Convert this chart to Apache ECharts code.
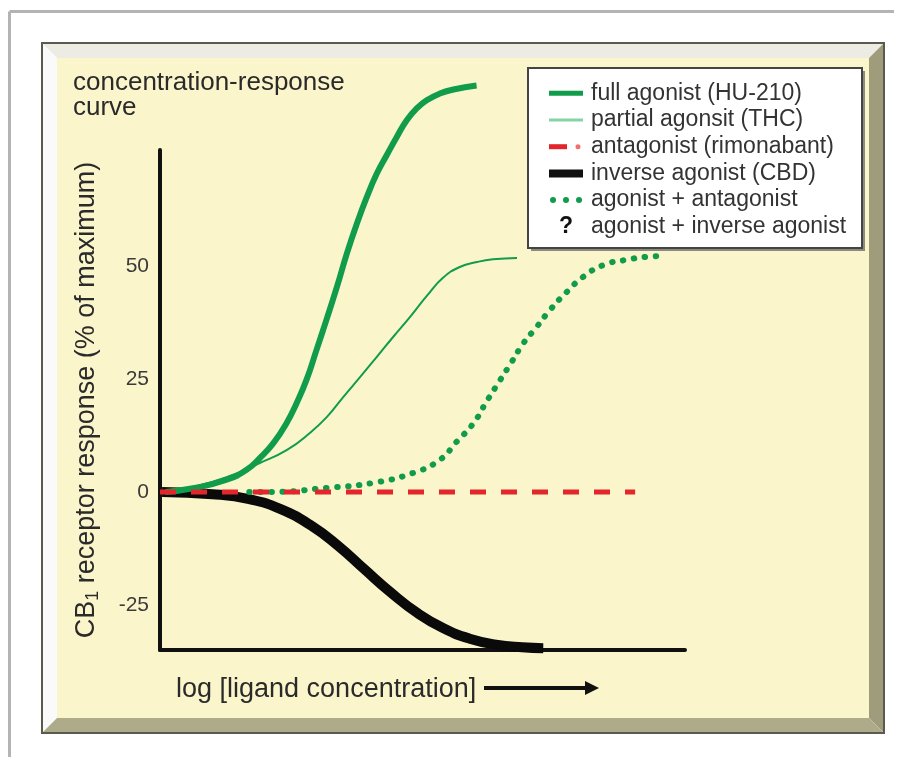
<!DOCTYPE html>
<html>
<head>
<meta charset="utf-8">
<script src="https://cdn.jsdelivr.net/npm/echarts@6/dist/echarts.min.js"></script>
<style>
  html, body { margin: 0; padding: 0; background: #fff; }
  #main { width: 904px; height: 757px; }
</style>
</head>
<body>
<div id="main"></div>
<script>
// values, x = log concentration (0..100 along the axis), y = % of maximum
var fullAgonist = [[1, 0], [6.3, 0.8], [12.7, 2.7], [16.5, 4.9], [19, 7.5], [21.6, 10.8], [24.1, 15.2],
  [26, 19.6], [27.9, 24.8], [29.8, 31.4], [31.7, 38.1], [33.7, 45.4], [35.6, 52.8], [37.5, 59.4],
  [39.4, 65.3], [41.3, 70.5], [43.2, 74.6], [45.1, 78.6], [47, 82.3], [48.9, 84.9], [50.8, 86.7],
  [53.3, 88.2], [55.9, 89.1], [60.3, 90]];
var partialAgonist = [[1, 0], [6.3, 1.1], [12.8, 3.3], [19, 6.4], [24.2, 9.3], [28.6, 13.1], [31.8, 16.6],
  [34.9, 21], [38.1, 25.4], [41.3, 29.9], [44.4, 34.3], [47.6, 38.7], [50.9, 43.5], [53.9, 47.4],
  [57.1, 49.8], [60.4, 50.9], [63.4, 51.5], [68, 51.8]];
var antagonist = [[0, 0], [90.5, 0]];
var inverseAgonist = [[0.4, 0], [10, -0.5], [17, -1.6], [23, -3.8], [29, -7.6], [34, -12], [39, -17.2],
  [44, -22.3], [49, -26.8], [54, -30.2], [59, -32.5], [64, -33.8], [69, -34.4], [73, -34.6]];
var agonistPlusAntagonist = [[17, 0], [21, 0], [31.8, 0.9], [40.6, 2], [48.2, 4.2], [53.3, 7.1], [56.5, 11.1],
  [59.7, 15.2], [62.2, 20], [64.8, 24.8], [67, 28.8], [69.2, 32.9], [71.8, 36.6], [74.3, 40.3],
  [77.5, 44.3], [80.6, 47.6], [84.4, 50.2], [88.9, 51.4], [93.3, 52.1], [95.2, 52.2]];
var yTicks = [-25, 0, 25, 50];
var legendNames = ['full agonist (HU-210)', 'partial agonsit (THC)', 'antagonist (rimonabant)',
  'inverse agonist (CBD)', 'agonist + antagonist', 'agonist + inverse agonist'];

var green = '#119c4b';
var red = '#e3262c';
var font = 'Liberation Sans, Arial, sans-serif';

// beveled frame + legend box drawn as graphics
var frame = [
  {type: 'line', shape: {x1: 9.5, y1: 11.5, x2: 894, y2: 11.5}, style: {stroke: '#b4b4b4', lineWidth: 3}, z: -100},
  {type: 'line', shape: {x1: 9.5, y1: 11.5, x2: 9.5, y2: 757}, style: {stroke: '#b4b4b4', lineWidth: 3}, z: -100},
  {type: 'rect', shape: {x: 57, y: 58, width: 812, height: 660}, style: {fill: '#fbf5cb'}, z: -100},
  {type: 'polygon', shape: {points: [[42, 43], [884, 43], [869, 58], [57, 58]]}, style: {fill: '#ecebe4'}, z: -100},
  {type: 'polygon', shape: {points: [[42, 43], [57, 58], [57, 718], [42, 733]]}, style: {fill: '#fafafa'}, z: -100},
  {type: 'polygon', shape: {points: [[884, 43], [884, 733], [869, 718], [869, 58]]}, style: {fill: '#9e9c7a'}, z: -100},
  {type: 'polygon', shape: {points: [[42, 733], [884, 733], [869, 718], [57, 718]]}, style: {fill: '#adab89'}, z: -100},
  {type: 'rect', shape: {x: 42, y: 43, width: 842, height: 690}, style: {fill: null, stroke: '#5a5a50', lineWidth: 2}, z: -99},
  // legend box
  {type: 'rect', shape: {x: 531, y: 71, width: 334, height: 180}, style: {fill: '#8a8a80'}, z: 50},
  {type: 'rect', shape: {x: 528, y: 68, width: 334, height: 180}, style: {fill: '#fff', stroke: '#444', lineWidth: 2}, z: 51},
  // x axis title and arrow
  {type: 'text', left: 176, top: 676, style: {text: 'log [ligand concentration]', font: '27px ' + font, fill: '#2a2a2a'}},
  {type: 'line', shape: {x1: 484, y1: 688, x2: 590, y2: 688}, style: {stroke: '#111', lineWidth: 4}},
  {type: 'polygon', shape: {points: [[585, 681], [599, 688], [585, 695]]}, style: {fill: '#111'}}
];

var rowY = 93.3, rowGap = 26.7;
var legendItems = [];
legendNames.forEach(function (name, i) {
  var y = rowY + i * rowGap;
  legendItems.push({type: 'text', x: 591, y: y, z: 52,
    style: {text: name, font: '23px ' + font, fill: '#333', textVerticalAlign: 'middle'}});
});
legendItems.push(
  {type: 'line', z: 52, shape: {x1: 549, y1: rowY, x2: 583, y2: rowY}, style: {stroke: green, lineWidth: 5}},
  {type: 'line', z: 52, shape: {x1: 549, y1: rowY + rowGap, x2: 583, y2: rowY + rowGap}, style: {stroke: '#86d3a6', lineWidth: 3}},
  {type: 'line', z: 52, shape: {x1: 549, y1: rowY + 2 * rowGap, x2: 567, y2: rowY + 2 * rowGap}, style: {stroke: red, lineWidth: 5}},
  {type: 'circle', z: 52, shape: {cx: 578, cy: rowY + 2 * rowGap, r: 2.5}, style: {fill: '#f07070'}},
  {type: 'rect', z: 52, shape: {x: 549, y: rowY + 3 * rowGap - 4, width: 34, height: 8}, style: {fill: '#111'}},
  {type: 'circle', z: 52, shape: {cx: 553, cy: rowY + 4 * rowGap, r: 3}, style: {fill: green}},
  {type: 'circle', z: 52, shape: {cx: 566, cy: rowY + 4 * rowGap, r: 3}, style: {fill: green}},
  {type: 'circle', z: 52, shape: {cx: 579, cy: rowY + 4 * rowGap, r: 3}, style: {fill: green}},
  {type: 'text', x: 566, y: rowY + 5 * rowGap, z: 52,
    style: {text: '?', font: 'bold 23px ' + font, fill: '#111', textAlign: 'center', textVerticalAlign: 'middle'}}
);

var option = {
  animation: false,
  backgroundColor: '#fff',
  title: {
    text: 'concentration-response\ncurve',
    left: 68,
    top: 65,
    textStyle: {fontFamily: font, fontSize: 26, fontWeight: 'normal', color: '#2a2a2a', lineHeight: 25}
  },
  graphic: frame.concat(legendItems),
  grid: {left: 160, right: 219, top: 150, bottom: 107},
  xAxis: {
    type: 'value', min: 0, max: 100,
    axisLine: {onZero: false, lineStyle: {color: '#111', width: 4}},
    axisTick: {show: false}, axisLabel: {show: false}, splitLine: {show: false}
  },
  yAxis: {
    type: 'value', min: -35, max: 75.7,
    name: '{a|CB}{s|1}{a| receptor response (% of maximum)}',
    nameLocation: 'middle', nameRotate: 90, nameGap: 58,
    nameTextStyle: {
      rich: {
        a: {fontFamily: font, fontSize: 27, color: '#2a2a2a'},
        s: {fontFamily: font, fontSize: 18, color: '#2a2a2a', padding: [13, 0, 0, 0]}
      }
    },
    axisLine: {lineStyle: {color: '#111', width: 4}},
    axisTick: {show: false},
    axisLabel: {customValues: yTicks, margin: 11, fontFamily: font, fontSize: 21, color: '#3a3a3a'},
    splitLine: {show: false}
  },
  series: [
    {name: legendNames[3], type: 'line', data: inverseAgonist, smooth: true, clip: false, showSymbol: false,
      lineStyle: {color: '#0a0a0a', width: 10}},
    {name: legendNames[0], type: 'line', data: fullAgonist, smooth: true, clip: false, showSymbol: false,
      lineStyle: {color: green, width: 6}},
    {name: legendNames[1], type: 'line', data: partialAgonist, smooth: true, clip: false, showSymbol: false,
      lineStyle: {color: green, width: 2}},
    {name: legendNames[4], type: 'line', data: agonistPlusAntagonist, smooth: true, clip: false, showSymbol: false,
      lineStyle: {color: green, width: 6, type: [0.5, 10.5], cap: 'round'}},
    {name: legendNames[2], type: 'line', data: antagonist, clip: false, showSymbol: false,
      lineStyle: {color: red, width: 5, type: [16, 15]}}
  ]
};

var chartDom = document.getElementById('main');
var myChart = echarts.init(chartDom);
myChart.setOption(option);
</script>
</body>
</html>
